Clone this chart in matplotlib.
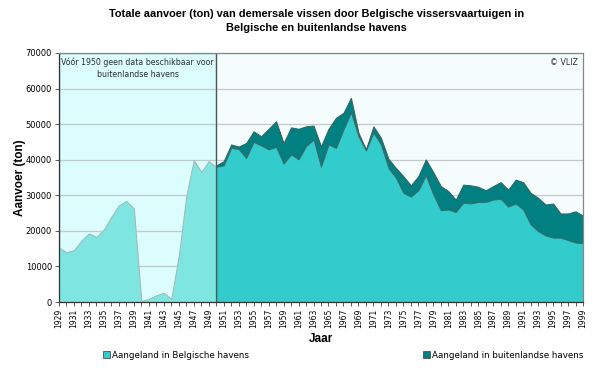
import matplotlib
matplotlib.use("Agg")
import matplotlib.pyplot as plt
from matplotlib.patches import Patch
from matplotlib.ticker import FixedLocator, FuncFormatter
import numpy as np

plt.rcParams["font.family"] = ["DejaVu Sans"]

# data (ton)
years = np.arange(1929, 2000)
belgische_havens = [
    15300, 14000, 14600, 17300, 19300, 18300, 20400, 24000, 27200, 28400,
    26300, 300, 900, 1900, 2600, 900, 13000, 29800, 39900, 36600,
    39600, 38000, 38400, 43300, 43000, 40500, 45000, 44000, 42900, 43600,
    38900, 41500, 40100, 43800, 45700, 38000, 44300, 43300, 48500, 53300,
    46600, 42600, 47600, 44300, 37700, 34900, 30700, 29600, 31400, 35600,
    30200, 25800, 26000, 25300, 27900, 27700, 28100, 28100, 28800, 29000,
    26800, 27700, 26000, 21800, 19900, 18700, 18100, 18100, 17400, 16700,
    16500,
]
# only available from 1950 on
buitenlandse_havens = [
    400, 1200, 1000, 700, 4200, 3000, 2600, 5800, 7200, 5800,
    7600, 8600, 5600, 3900, 5800, 4400, 8500, 4700, 4100, 1000,
    300, 1800, 1900, 2600, 2800, 4700, 3200, 4000, 4500, 6300,
    6800, 5200, 3500, 5100, 5100, 4300, 3300, 3800, 4700, 4800,
    6700, 7700, 8900, 9400, 8700, 9600, 6800, 7500, 8800, 7800,
]
first_foreign_year = 1950

title = ("Totale aanvoer (ton) van demersale vissen door Belgische vissersvaartuigen in\n"
         "Belgische en buitenlandse havens")
note = "Vóór 1950 geen data beschikbaar voor\nbuitenlandse havens"

belg = np.array(belgische_havens, dtype=float)
split = first_foreign_year - years[0]
yrs_new = years[split:]
belg_new = belg[split:]
total_new = belg_new + np.array(buitenlandse_havens, dtype=float)

bold_font = ["Liberation Sans", "DejaVu Sans"]

fig = plt.figure(figsize=(6.0, 3.68), dpi=100)
ax = fig.add_axes([0.0983, 0.1793, 0.8734, 0.6767])
ax.set_facecolor("#f4fcfc")

# pre-1950 panel
ax.axvspan(years[0], first_foreign_year, facecolor="#dcfdfd", edgecolor="#6b7b7b",
           linewidth=0.9, zorder=0.5)
for v in range(10000, 70001, 10000):
    ax.axhline(v, color="#c4c8c8", linewidth=0.9, zorder=0.8)

ax.fill_between(years[:split + 1], 0, belg[:split + 1], facecolor="#7fe5e1",
                edgecolor="#a8b4b4", linewidth=0.7, zorder=2)
ax.fill_between(yrs_new, belg_new, total_new, facecolor="#008080",
                edgecolor="#3d5c5c", linewidth=0.7, zorder=2)
ax.fill_between(yrs_new, 0, belg_new, facecolor="#33cccc",
                edgecolor="#3d6a6a", linewidth=0.7, zorder=3)
ax.axvline(first_foreign_year, color="#4a5a5a", linewidth=0.9, zorder=4)

ax.set_xlim(years[0], years[-1])
ax.set_ylim(0, 70000)
ax.yaxis.set_major_locator(FixedLocator(range(0, 70001, 10000)))
ax.xaxis.set_major_locator(FixedLocator(years))
ax.xaxis.set_major_formatter(FuncFormatter(lambda x, p: str(int(x)) if int(x) % 2 == 1 else ""))
ax.tick_params(axis="x", labelsize=5.5, rotation=90, length=3, width=0.6,
               color="#404040", pad=2)
ax.tick_params(axis="y", labelsize=6, length=3, width=0.6, color="#404040", pad=2)
for s in ax.spines.values():
    s.set_color("#808888")
    s.set_linewidth(0.9)
    s.set_zorder(5)
ax.spines["bottom"].set_color("#303030")
ax.spines["left"].set_color("#303030")

ax.text(1939.5, 68700, note, ha="center", va="top", fontsize=5.7, color="#303030",
        linespacing=1.35, zorder=6)
ax.text(1998.3, 68500, "© VLIZ", ha="right", va="top", fontsize=5.7, color="#303030",
        zorder=6)

ax.set_ylabel("Aanvoer (ton)", fontsize=8.5, fontweight="bold", family=bold_font)
ax.yaxis.set_label_coords(-0.062, 0.5)
ax.set_xlabel("Jaar", fontsize=8.5, fontweight="bold", family=bold_font, labelpad=3)
fig.suptitle(title, fontsize=7.9, fontweight="bold", family=bold_font, y=0.975,
             x=0.527, linespacing=1.45)

handles = [
    Patch(facecolor="#33cccc", edgecolor="#505050", linewidth=0.6,
          label="Aangeland in Belgische havens"),
    Patch(facecolor="#008080", edgecolor="#505050", linewidth=0.6,
          label="Aangeland in buitenlandse havens"),
]
fig.legend(handles=handles, loc="center", bbox_to_anchor=(0.572, 0.035), ncol=2,
           frameon=False, fontsize=6.3, handlelength=0.8, handleheight=0.8,
           handletextpad=0.3, columnspacing=19.8)

fig.savefig("out.png", dpi=100)
